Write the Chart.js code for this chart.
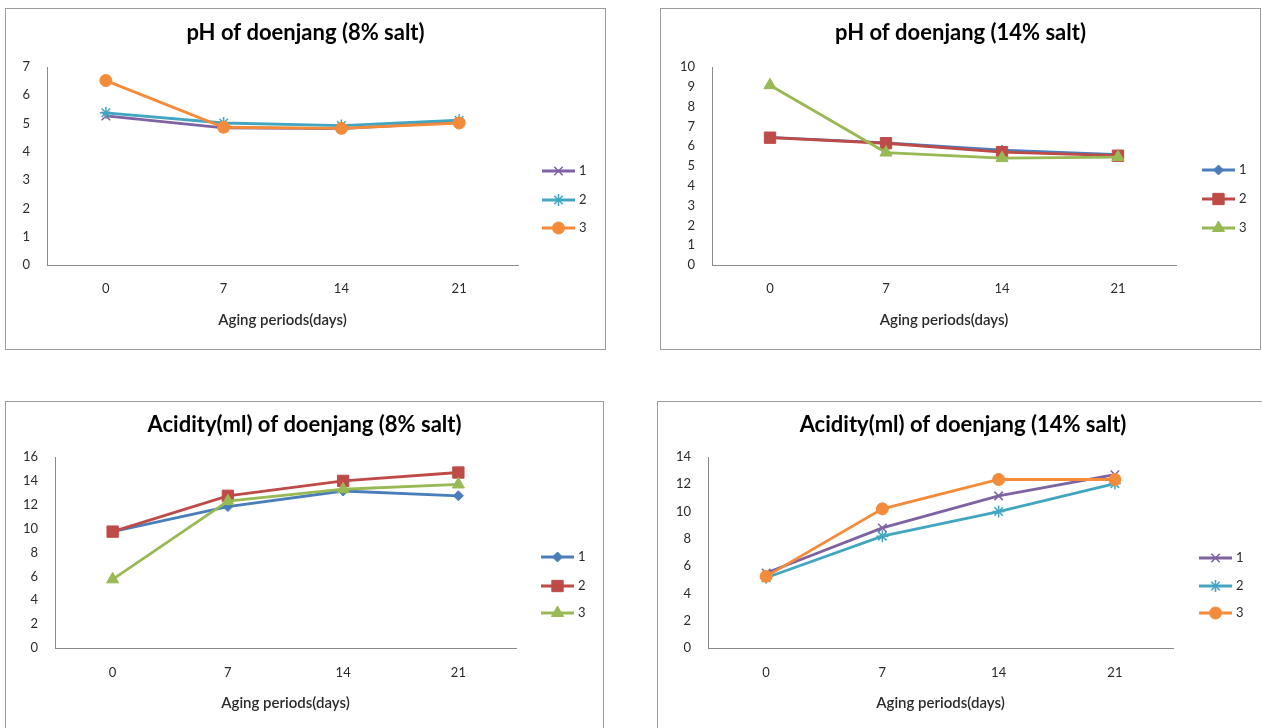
<!DOCTYPE html>
<html>
<head>
<meta charset="utf-8">
<script src="https://cdn.jsdelivr.net/npm/chart.js@4/dist/chart.umd.min.js"></script>
<style>
  html, body { margin: 0; padding: 0; background: #fff; overflow: hidden; }
  body { width: 1262px; height: 728px; position: relative; }
  .box { position: absolute; border: 1px solid #9c9c9c; background: #fff; }
  .box canvas { display: block; }
</style>
</head>
<body>
<div class="box" style="left:5px; top:8px; width:599px; height:340px;"><canvas id="c1"></canvas></div>
<div class="box" style="left:660px; top:8px; width:599px; height:340px;"><canvas id="c2"></canvas></div>
<div class="box" style="left:5px; top:401px; width:597px; height:340px;"><canvas id="c3"></canvas></div>
<div class="box" style="left:657px; top:401px; width:610px; height:340px;"><canvas id="c4"></canvas></div>
<script>
// aging days on the x axis
const days = ['0', '7', '14', '21'];
const seriesNames = ['1', '2', '3'];

// pH, 8% salt
const ph8_s1 = [5.27, 4.85, 4.82, 5.05];
const ph8_s2 = [5.38, 5.02, 4.93, 5.12];
const ph8_s3 = [6.52, 4.87, 4.83, 5.02];

// pH, 14% salt
const ph14_s1 = [6.45, 6.17, 5.8, 5.57];
const ph14_s2 = [6.43, 6.15, 5.7, 5.52];
const ph14_s3 = [9.08, 5.68, 5.4, 5.45];

// acidity, 8% salt
const ac8_s1 = [9.75, 11.85, 13.15, 12.75];
const ac8_s2 = [9.75, 12.75, 14.0, 14.7];
const ac8_s3 = [5.75, 12.3, 13.3, 13.7];

// acidity, 14% salt
const ac14_s1 = [5.5, 8.8, 11.15, 12.7];
const ac14_s2 = [5.15, 8.2, 10.0, 12.05];
const ac14_s3 = [5.25, 10.2, 12.35, 12.35];

const FONT = 'Lato, "Open Sans", "DejaVu Sans", sans-serif';
const TEXT = '#2b2b2b';

// marker looks, Excel 2007 style
const PURPLE = { color: '#7e62a1', style: 'crossRot', radius: 6, bw: 1.5 };
const TEAL = { color: '#43a6c0', style: 'star', radius: 6, bw: 1.5 };
const ORANGE = { color: '#f38b3a', style: 'circle', radius: 6, bw: 1 };
const BLUE = { color: '#4a7ebb', style: 'rectRot', radius: 5, bw: 1 };
const RED = { color: '#be4b48', style: 'rect', radius: 8, bw: 1 };
const GREEN = { color: '#98b954', style: 'triangle', radius: 7, bw: 1 };

function makeSet(label, values, look, order) {
  return {
    label: label,
    data: values,
    borderColor: look.color,
    backgroundColor: look.color,
    borderWidth: 2.8,
    tension: 0,
    pointStyle: look.style,
    pointRadius: look.radius,
    pointHoverRadius: look.radius,
    pointBackgroundColor: look.color,
    pointBorderColor: look.color,
    pointBorderWidth: look.bw,
    order: order,
  };
}

// legend on the right, drawn at fixed spots like the Excel one
const sideLegend = {
  id: 'sideLegend',
  afterDraw(chart, args, opts) {
    const ctx = chart.ctx;
    ctx.save();
    chart.data.datasets.forEach((ds, i) => {
      const y = opts.ys[i];
      ctx.strokeStyle = ds.borderColor;
      ctx.lineWidth = ds.borderWidth;
      ctx.beginPath();
      ctx.moveTo(opts.x1, y);
      ctx.lineTo(opts.x2, y);
      ctx.stroke();
      ctx.fillStyle = ds.pointBackgroundColor;
      ctx.strokeStyle = ds.pointBorderColor;
      ctx.lineWidth = ds.pointBorderWidth;
      Chart.helpers.drawPoint(ctx, {
        pointStyle: ds.pointStyle,
        radius: ds.pointRadius,
        borderWidth: ds.pointBorderWidth,
        rotation: 0,
      }, (opts.x1 + opts.x2) / 2, y);
      ctx.fillStyle = TEXT;
      ctx.font = '13px ' + FONT;
      ctx.textBaseline = 'middle';
      ctx.textAlign = 'left';
      ctx.fillText(ds.label, opts.x2 + 4, y);
    });
    ctx.restore();
  }
};

function makeChart(id, g) {
  const canvas = document.getElementById(id);
  const H = canvas.parentNode.clientHeight;
  const W = canvas.parentNode.clientWidth;
  const titleSize = 22, tickSize = 13, axisSize = 15;

  return new Chart(canvas.getContext('2d'), {
    type: 'line',
    data: { labels: days, datasets: g.datasets },
    options: {
      responsive: true,
      maintainAspectRatio: false,
      animation: false,
      events: [],
      layout: { padding: 0 },
      plugins: {
        legend: { display: false },
        tooltip: { enabled: false },
        title: {
          display: true,
          text: g.title,
          color: '#000',
          font: { family: FONT, size: titleSize, weight: 'bold', lineHeight: 1.2 },
          padding: {
            top: g.titleY - titleSize * 0.6,
            bottom: g.top - g.titleY - titleSize * 0.6,
          },
        },
        sideLegend: g.legend,
      },
      scales: {
        x: {
          offset: true,
          grid: { display: false, drawTicks: false },
          border: { display: true, color: '#8a8a8a', width: 1 },
          ticks: {
            color: TEXT,
            padding: g.tickY - g.bottom - tickSize * 0.6,
            font: { family: FONT, size: tickSize },
          },
          title: {
            display: true,
            text: 'Aging periods(days)',
            color: TEXT,
            font: { family: FONT, size: axisSize, weight: '600', lineHeight: 1.2 },
            padding: { top: 0, bottom: H - g.axisTitleY - axisSize * 0.6 },
          },
          afterFit: (s) => { s.height = H - g.bottom; },
        },
        y: {
          min: 0,
          max: g.max,
          grid: { display: false, drawTicks: false },
          border: { display: true, color: '#8a8a8a', width: 1 },
          ticks: {
            stepSize: g.step,
            color: TEXT,
            padding: 17,
            font: { family: FONT, size: tickSize },
          },
          afterFit: (s) => { s.width = g.left; },
        },
        // empty strip on the right that holds the legend room
        room: {
          type: 'linear',
          position: 'right',
          grid: { display: false, drawTicks: false },
          border: { display: false },
          ticks: { display: false },
          afterFit: (s) => { s.width = W - g.right; },
        },
      },
    },
    plugins: [sideLegend],
  });
}

makeChart('c1', {
  title: 'pH of doenjang (8% salt)',
  max: 7, step: 1,
  left: 41, right: 512, top: 58, bottom: 256,
  titleY: 24, tickY: 280, axisTitleY: 311,
  legend: { x1: 536, x2: 569, ys: [162, 191, 219] },
  datasets: [
    makeSet(seriesNames[0], ph8_s1, PURPLE, 3),
    makeSet(seriesNames[1], ph8_s2, TEAL, 2),
    makeSet(seriesNames[2], ph8_s3, ORANGE, 1),
  ],
});

makeChart('c2', {
  title: 'pH of doenjang (14% salt)',
  max: 10, step: 1,
  left: 51, right: 515, top: 58, bottom: 256,
  titleY: 24, tickY: 280, axisTitleY: 311,
  legend: { x1: 541, x2: 574, ys: [161, 190, 219] },
  datasets: [
    makeSet(seriesNames[0], ph14_s1, BLUE, 3),
    makeSet(seriesNames[1], ph14_s2, RED, 2),
    makeSet(seriesNames[2], ph14_s3, GREEN, 1),
  ],
});

makeChart('c3', {
  title: 'Acidity(ml) of doenjang (8% salt)',
  max: 16, step: 2,
  left: 49, right: 510, top: 55, bottom: 246,
  titleY: 23, tickY: 271, axisTitleY: 301,
  legend: { x1: 535, x2: 568, ys: [155, 184, 211] },
  datasets: [
    makeSet(seriesNames[0], ac8_s1, BLUE, 3),
    makeSet(seriesNames[1], ac8_s2, RED, 2),
    makeSet(seriesNames[2], ac8_s3, GREEN, 1),
  ],
});

makeChart('c4', {
  title: 'Acidity(ml) of doenjang (14% salt)',
  max: 14, step: 2,
  left: 50, right: 515, top: 55, bottom: 246,
  titleY: 23, tickY: 271, axisTitleY: 301,
  legend: { x1: 541, x2: 574, ys: [156, 184, 211] },
  datasets: [
    makeSet(seriesNames[0], ac14_s1, PURPLE, 3),
    makeSet(seriesNames[1], ac14_s2, TEAL, 2),
    makeSet(seriesNames[2], ac14_s3, ORANGE, 1),
  ],
});
</script>
</body>
</html>
